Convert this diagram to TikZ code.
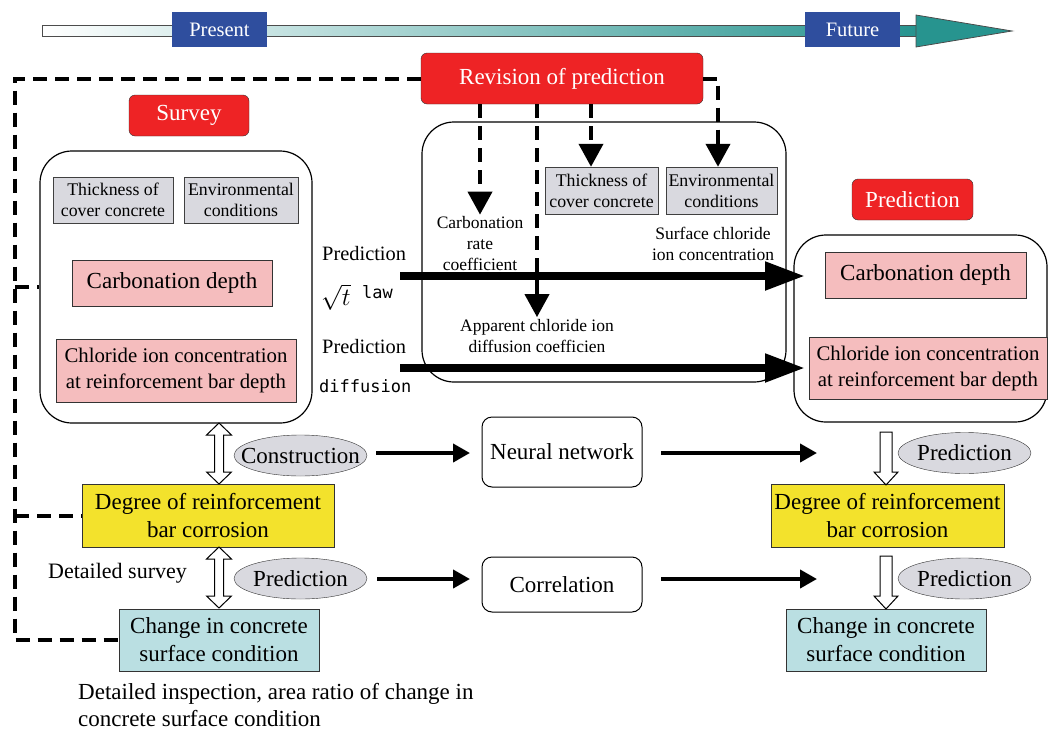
\documentclass[tikz,border=0pt]{standalone}
\usepackage{fontspec}
\setmainfont{Liberation Serif}
\newfontfamily\gothic{DejaVu Sans Mono}
\usetikzlibrary{arrows.meta,shapes.geometric,calc}
\definecolor{revred}{HTML}{EE2325}
\definecolor{tlblue}{HTML}{2F4E9E}
\definecolor{grayfill}{HTML}{D9D9DF}
\definecolor{pinkfill}{HTML}{F5BDBE}
\definecolor{yelfill}{HTML}{F3E22C}
\definecolor{bluefill}{HTML}{BADFE2}
\definecolor{tealc}{HTML}{27948F}
\newcommand{\myfs}[2]{\fontsize{#1}{#2}\selectfont}
\newcommand{\hollowdown}[3]{%
  \filldraw[fill=white,draw=black,line width=1pt]
   ({#1-6},{#2}) -- ({#1+6},{#2}) -- ({#1+6},{#3-13}) -- ({#1+12},{#3-13}) -- ({#1},{#3})
   -- ({#1-12},{#3-13}) -- ({#1-6},{#3-13}) -- cycle;}
\newcommand{\hollowboth}[3]{%
  \filldraw[fill=white,draw=black,line width=1pt]
   ({#1},{#2}) -- ({#1+12.5},{#2+12}) -- ({#1+4.5},{#2+12}) -- ({#1+4.5},{#3-12})
   -- ({#1+12.5},{#3-12}) -- ({#1},{#3}) -- ({#1-12.5},{#3-12}) -- ({#1-4.5},{#3-12})
   -- ({#1-4.5},{#2+12}) -- ({#1-12.5},{#2+12}) -- cycle;}
\begin{document}
\begin{tikzpicture}[x=1pt,y=-1pt,
  redbox/.style={draw=black!80,fill=revred,rounded corners=6pt,text=white,font=\myfs{23}{27},inner sep=0pt},
  tlbox/.style={fill=tlblue,text=white,font=\myfs{20.5}{24},inner sep=0pt,minimum width=95pt,minimum height=35pt},
  graybox/.style={draw=black!75,fill=grayfill,align=center,font=\myfs{17.8}{21},inner sep=0pt},
  pinkbox/.style={draw=black!80,fill=pinkfill,align=center,font=\myfs{23}{27},inner sep=0pt},
  yelbox/.style={draw=black!80,fill=yelfill,align=center,font=\myfs{23}{28.5},inner sep=0pt},
  bluebox/.style={draw=black!80,fill=bluefill,align=center,font=\myfs{23}{28},inner sep=0pt},
  grp/.style={draw=black,line width=1.2pt,rounded corners=32pt,inner sep=0pt},
  oval/.style={ellipse,draw=black!80,fill=grayfill,inner sep=0pt,minimum width=133pt,minimum height=41pt},
  ovaltext/.style={font=\myfs{23}{27},inner sep=0pt},
  wbox/.style={draw=black,line width=1pt,rounded corners=10pt,inner sep=0pt,font=\myfs{23}{27},minimum width=160pt},
  lab/.style={align=center,inner sep=2pt,font=\myfs{17.5}{21}},
  dsh/.style={line width=4pt,dash pattern=on 14pt off 8pt},
  dtip/.style={-{Triangle[length=23pt,width=24pt]}},
  thickarr/.style={line width=8pt,-{Triangle[length=40pt,width=27pt]}},
  medarr/.style={line width=4pt,-{Triangle[length=17pt,width=18pt]}}
]
\useasboundingbox (0,0) rectangle (1049,731);
% timeline
\shade[left color=white,right color=tealc,draw=black!70,line width=0.8pt] (42,25) rectangle (916,36);
\filldraw[fill=tealc,draw=black!70,line width=0.8pt] (916,15) -- (1012,31) -- (916,47) -- cycle;
\node[tlbox] (present) at (219.5,29.5) {Present};
\node[tlbox] (future) at (852.5,29.5) {Future};

% group boxes
\node[grp,minimum width=272pt,minimum height=272pt] (lbox) at (176,287) {};
\node[grp,minimum width=364pt,minimum height=260pt] (mbox) at (604,252) {};
\node[grp,minimum width=253pt,minimum height=187pt] (rbox) at (920.5,328.5) {};

% headers
\node[redbox,minimum width=282pt,minimum height=51pt] (rev) at (562,78.5) {Revision of prediction};
\node[redbox,minimum width=120pt,minimum height=41pt] (survey) at (189,115.5) {Survey};
\node[redbox,minimum width=121pt,minimum height=41pt] (predhead) at (912.5,199.5) {Prediction};

% left contents
\node[graybox,minimum width=120pt,minimum height=46pt] (thickL) at (113,200) {Thickness of\\cover concrete};
\node[graybox,minimum width=114pt,minimum height=46pt] (envL) at (241,200) {Environmental\\conditions};
\node[pinkbox,minimum width=200pt,minimum height=46pt] (carbL) at (172,283) {Carbonation depth};
\node[pinkbox,font=\myfs{20.8}{26},minimum width=240pt,minimum height=63pt] (chlL) at (176,370.5) {Chloride ion concentration\\at reinforcement bar depth};

% middle contents
\node[graybox,minimum width=113pt,minimum height=47pt] (thickM) at (601.5,190.5) {Thickness of\\cover concrete};
\node[graybox,minimum width=111pt,minimum height=47pt] (envM) at (721.5,190.5) {Environmental\\conditions};
\node[lab] (crate) at (480,244) {Carbonation\\rate\\coefficient};
\node[lab] (surf) at (713,244) {Surface chloride\\ion concentration};
\node[lab] (appar) at (537,336) {Apparent chloride ion\\diffusion coefficien};

% right contents
\node[pinkbox,minimum width=201pt,minimum height=46pt] (carbR) at (925.5,275) {Carbonation depth};
\node[pinkbox,font=\myfs{20.8}{26},minimum width=238pt,minimum height=62pt] (chlR) at (928,368) {Chloride ion concentration\\at reinforcement bar depth};

% prediction labels
\node[anchor=west,inner sep=0pt,font=\myfs{20.4}{24}] (predA) at (322,254) {Prediction};
\node[anchor=west,inner sep=0pt,font=\myfs{24}{28}] (sqrtt) at (321,297) {$\sqrt{t}$};
\node[anchor=west,inner sep=0pt,font=\gothic\myfs{17}{20}] (lawt) at (362,292) {law};
\node[anchor=west,inner sep=0pt,font=\myfs{20.4}{24}] (predB) at (322,347) {Prediction};
\node[anchor=west,inner sep=0pt,font=\gothic\myfs{17}{20}] (difft) at (319,386) {diffusion};

% dashed revision connectors
\coordinate (dl) at (15,0);
\coordinate (c1) at (480,0);
\coordinate (c2) at (537,0);
\coordinate (c3) at (591,0);
\coordinate (c4) at (718,0);
\draw[dsh,dtip] (rev.south -| c1) -- (crate.north -| c1);
\draw[dsh,dtip] (rev.south -| c2) -- (appar.north -| c2);
\draw[dsh,dtip] (rev.south -| c3) -- (thickM.north -| c3);
\draw[dsh,dtip] (rev.east) -- (rev.east -| c4) -- (envM.north -| c4);

% thick prediction arrows
\coordinate (t1s) at (400,276);
\coordinate (t1e) at (805,276);
\coordinate (t2s) at (400,368);
\coordinate (t2e) at (805,368);
\draw[thickarr] (t1s) -- (t1e);
\draw[thickarr] (t2s) -- (t2e);

% lower part
\node[yelbox,minimum width=252pt,minimum height=63pt] (degL) at (208,515.5) {Degree of reinforcement\\bar corrosion};
\node[yelbox,minimum width=233pt,minimum height=63pt] (degR) at (887.5,515.5) {Degree of reinforcement\\bar corrosion};
\node[bluebox,minimum width=200pt,minimum height=62pt] (chgL) at (219,640) {Change in concrete\\surface condition};
\node[bluebox,minimum width=200pt,minimum height=62pt] (chgR) at (886,640) {Change in concrete\\surface condition};
\node[oval] (constr) at (300.5,455.5) {};
\node[ovaltext] (constrT) at (constr.center) {Construction};
\node[oval] (predE1) at (300.5,578.5) {};
\node[ovaltext] (predE1T) at (predE1.center) {Prediction};
\node[oval] (predE2) at (964.5,453) {};
\node[ovaltext] (predE2T) at (predE2.center) {Prediction};
\node[oval] (predE3) at (964.5,578.5) {};
\node[ovaltext] (predE3T) at (predE3.center) {Prediction};
\node[wbox,minimum height=70pt] (neural) at (562,452) {Neural network};
\node[wbox,minimum height=55pt] (corr) at (562,584.5) {Correlation};
\node[anchor=west,inner sep=0pt,font=\myfs{22}{26}] (dsurv) at (48,573) {Detailed survey};
\node[anchor=west,inner sep=0pt,align=left,font=\myfs{23}{27}] (insp) at (78,705) {Detailed inspection, area ratio of change in\\concrete surface condition};

% dashed feedback lines
\draw[dsh] (rev.west) -- (rev.west -| dl) -- (chgL.west -| dl) -- (chgL.west);
\draw[dsh] (degL.west -| dl) -- (degL.west);
\draw[dsh] (lbox.west -| dl) -- (lbox.west);

% medium arrows
\coordinate (m1a) at (376,453);
\coordinate (m1b) at (470,453);
\coordinate (m2a) at (661,453);
\coordinate (m2b) at (817,453);
\coordinate (m3a) at (377,579);
\coordinate (m3b) at (470,579);
\coordinate (m4a) at (661,579);
\coordinate (m4b) at (817,579);
\draw[medarr] (m1a) -- (m1b);
\draw[medarr] (m2a) -- (m2b);
\draw[medarr] (m3a) -- (m3b);
\draw[medarr] (m4a) -- (m4b);

% hollow arrows
\hollowboth{219}{423}{484}
\hollowboth{219}{547}{608}
\hollowdown{886}{432}{485}
\hollowdown{886}{556}{609}
\end{tikzpicture}
\end{document}
